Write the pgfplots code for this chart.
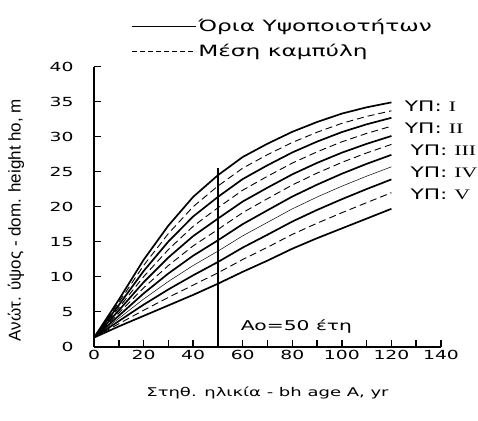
\documentclass[border=0pt]{standalone}
\usepackage{fontspec}
\setmainfont{DejaVu Sans}[FakeStretch=1.5]
\newfontfamily\romfont{Liberation Serif}[FakeStretch=1.5]
\newfontfamily\yfont{Liberation Sans}
\usepackage{pgfplots}
\pgfplotsset{compat=1.18}
\usepackage{pgfplotstable}

% site-class curves: b = class boundaries (solid), m = mean curves (dashed)
\pgfplotstableread{
age  b1    m1     b2     m2     b3     m3     b4     m4     b5     m5     b6
0    1.3   1.3    1.3    1.3    1.3    1.3    1.3    1.3    1.3    1.3    1.3
10   6.7   6.32   5.94   5.56   5.18   4.80   4.42   4.04   3.66   3.28   2.9
20   12.4  11.6   10.8   10.0   9.2    8.4    7.6    6.8    6.0    5.2    4.4
30   17.3  16.16  15.02  13.88  12.74  11.6   10.46  9.32   8.18   7.04   5.9
40   21.4  20.0   18.6   17.2   15.8   14.4   13.0   11.6   10.2   8.8    7.4
50   24.5  22.95  21.4   19.85  18.3   16.75  15.2   13.65  12.1   10.55  9.0
60   27.1  25.51  23.95  22.36  20.74  19.15  17.51  15.84  14.16  12.46  10.7
70   29.0  27.43  25.92  24.35  22.72  21.15  19.49  17.76  16.0   14.21  12.3
80   30.7  29.18  27.75  26.23  24.62  23.1   21.45  19.69  17.88  16.04  14.0
90   32.1  30.64  29.3   27.84  26.26  24.8   23.15  21.38  19.54  17.64  15.5
100  33.3  31.91  30.66  29.27  27.72  26.33  24.71  22.93  21.07  19.14  16.9
110  34.2  32.9   31.77  30.47  28.98  27.68  26.12  24.36  22.52  20.58  18.3
120  34.9  33.7   32.7   31.5   30.1   28.9   27.41  25.7   23.9   22.0   19.7
}\sitecurves

\begin{document}
\begin{tikzpicture}
\useasboundingbox (-94pt,-73.3pt) rectangle (384pt,346.7pt);
\begin{axis}[
    scale only axis, width=347pt, height=280pt,
    xmin=0, xmax=140, ymin=0, ymax=40,
    axis lines=left,
    axis line style={black, line width=1.8pt, -},
    tick align=inside,
    major tick length=7pt, minor tick length=7pt,
    tick style={black, line width=1.5pt},
    xtick={0,20,...,140}, minor xtick={10,30,...,130},
    ytick={0,5,...,40},
    /pgf/number format/assume math mode=true,
    ticklabel style={font=\fontsize{12.5}{14}\selectfont},
    yticklabel style={xshift=-17pt},
    xlabel={Στηθ. ηλικία - bh age A, yr},
    xlabel style={font=\fontsize{12}{14}\selectfont, at={(axis description cs:0.5,0)}, anchor=center, yshift=-46.3pt},
    ylabel={Ανώτ. ύψος - dom. height ho, m},
    ylabel style={font=\yfont\fontsize{17}{20}\selectfont, at={(axis description cs:-0.2248,0.4525)}, anchor=center},
    clip=false,
    legend style={draw=none, fill=none, at={(0.107,1.178)}, anchor=north west,
        font=\fontsize{15.5}{18}\selectfont, row sep=7pt, inner sep=0pt},
    legend cell align=left,
    legend image code/.code={\draw[#1] (0pt,0pt) -- (64pt,0pt);},
]
\addlegendimage{black, line width=1pt}
\addlegendentry{Όρια Υψοποιοτήτων}
\addlegendimage{black, line width=0.8pt, dash pattern=on 5pt off 3pt}
\addlegendentry{Μέση καμπύλη}

\addplot[black, line width=1.7pt, forget plot] table[x=age, y=b1] {\sitecurves};
\addplot[black, line width=0.9pt, dash pattern=on 7pt off 4pt, forget plot] table[x=age, y=m1] {\sitecurves};
\addplot[black, line width=1.7pt, forget plot] table[x=age, y=b2] {\sitecurves};
\addplot[black, line width=0.9pt, dash pattern=on 7pt off 4pt, forget plot] table[x=age, y=m2] {\sitecurves};
\addplot[black, line width=1.7pt, forget plot] table[x=age, y=b3] {\sitecurves};
\addplot[black, line width=0.9pt, dash pattern=on 7pt off 4pt, forget plot] table[x=age, y=m3] {\sitecurves};
\addplot[black, line width=1.7pt, forget plot] table[x=age, y=b4] {\sitecurves};
\addplot[black, line width=0.5pt, forget plot] table[x=age, y=m4] {\sitecurves};
\addplot[black, line width=1.7pt, forget plot] table[x=age, y=b5] {\sitecurves};
\addplot[black, line width=0.9pt, dash pattern=on 7pt off 4pt, forget plot] table[x=age, y=m5] {\sitecurves};
\addplot[black, line width=1.7pt, forget plot] table[x=age, y=b6] {\sitecurves};

% reference age line
\addplot[black, line width=2pt, forget plot] coordinates {(50,0) (50,25.6)};

\node[anchor=west, font=\fontsize{14.5}{16}\selectfont] at (axis cs:124,34.3) {ΥΠ: {\romfont I}};
\node[anchor=west, font=\fontsize{14.5}{16}\selectfont] at (axis cs:124,31.2) {ΥΠ: {\romfont II}};
\node[anchor=west, font=\fontsize{14.5}{16}\selectfont] at (axis cs:126.3,28.1) {ΥΠ: {\romfont III}};
\node[anchor=west, font=\fontsize{14.5}{16}\selectfont] at (axis cs:126.3,24.9) {ΥΠ: {\romfont IV}};
\node[anchor=west, font=\fontsize{14.5}{16}\selectfont] at (axis cs:126.3,21.7) {ΥΠ: {\romfont V}};
\node[font=\fontsize{13.5}{16}\selectfont] at (axis cs:81.7,2.9) {Ao=50 έτη};
\end{axis}
\end{tikzpicture}
\end{document}
